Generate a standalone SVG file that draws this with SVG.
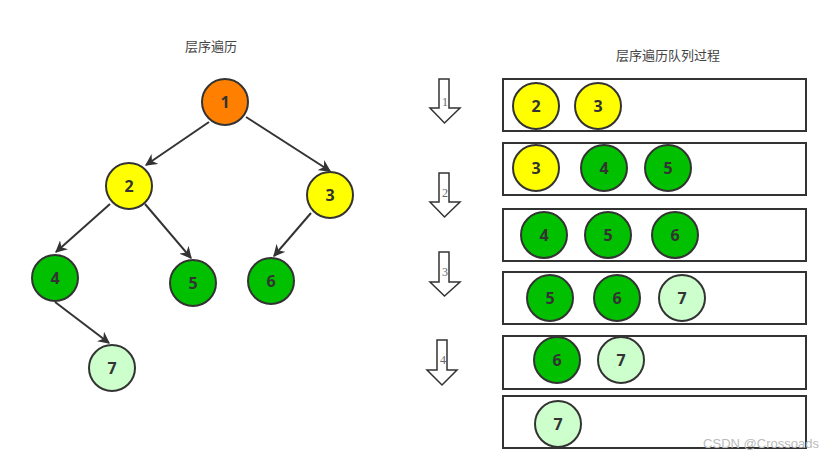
<svg xmlns="http://www.w3.org/2000/svg" width="840" height="459" viewBox="0 0 840 459">
<defs>
<marker id="ah" viewBox="0 0 10 10" refX="9" refY="5" markerWidth="6" markerHeight="6" orient="auto" markerUnits="strokeWidth">
<path d="M0,0 L10,5 L0,10 L3,5 z" fill="#333"/>
</marker>
</defs>
<style>
.n{stroke:#333;stroke-width:2}
.o{fill:#ff8000}
.y{fill:#ffff00}
.g{fill:#00c000}
.l{fill:#ccffcc}
.t{font-family:"Open Sans","Liberation Sans",sans-serif;font-weight:bold;font-size:16px;fill:#333;text-anchor:middle;dominant-baseline:central}
.e{stroke:#333;stroke-width:2;fill:none;marker-end:url(#ah)}
.q{fill:#fff;stroke:#333;stroke-width:2}
.ar{fill:#fff;stroke:#333;stroke-width:1.5}
.al{font-family:"Liberation Serif",serif;font-size:12px;fill:#666;text-anchor:middle}
.ti{font-family:"Noto Sans CJK SC",sans-serif;font-size:13px;fill:#444;text-anchor:middle}
</style>
<rect width="840" height="459" fill="#fff"/>
<text class="ti" x="211" y="51">层序遍历</text>
<text class="ti" x="668" y="60">层序遍历队列过程</text>
<g id="edges">
<line class="e" x1="209" y1="122" x2="146" y2="165"/>
<line class="e" x1="246" y1="117" x2="330" y2="171"/>
<line class="e" x1="110" y1="204" x2="56" y2="252"/>
<line class="e" x1="145" y1="204" x2="191" y2="258"/>
<line class="e" x1="311" y1="213" x2="274" y2="256"/>
<line class="e" x1="55" y1="302" x2="109" y2="343"/>
</g>
<g id="n1"><circle class="n o" cx="225" cy="102" r="23"/><text class="t" x="225" y="102">1</text></g>
<g id="n2"><circle class="n y" cx="129" cy="186" r="23"/><text class="t" x="129" y="186">2</text></g>
<g id="n3"><circle class="n y" cx="330" cy="195" r="23"/><text class="t" x="330" y="195">3</text></g>
<g id="n4"><circle class="n g" cx="55" cy="278" r="23"/><text class="t" x="55" y="278">4</text></g>
<g id="n5"><circle class="n g" cx="193" cy="283" r="23"/><text class="t" x="193" y="283">5</text></g>
<g id="n6"><circle class="n g" cx="271" cy="281" r="23"/><text class="t" x="271" y="281">6</text></g>
<g id="n7"><circle class="n l" cx="112" cy="368" r="23"/><text class="t" x="112" y="368">7</text></g>

<g id="arrows">
<path class="ar" d="M439,79 H449 V108 H460 L444.5,123 L430,108 H439 Z"/>
<text class="al" x="445" y="106">1</text>
<path class="ar" d="M439,173 H449 V202 H460 L444.5,217 L430,202 H439 Z"/>
<text class="al" x="445" y="197">2</text>
<path class="ar" d="M439,252 H449 V282 H460 L444.5,296 L430,282 H439 Z"/>
<text class="al" x="445" y="276">3</text>
<path class="ar" d="M437,340 H447 V370 H457 L442,385 L427,370 H437 Z"/>
<text class="al" x="443" y="364">4</text>
</g>

<g id="q1">
<rect class="q" x="503" y="79" width="303" height="52"/>
<circle class="n y" cx="536" cy="106" r="23"/><text class="t" x="536" y="106">2</text>
<circle class="n y" cx="598" cy="106" r="23"/><text class="t" x="598" y="106">3</text>
</g>
<g id="q2">
<rect class="q" x="503" y="143" width="303" height="52"/>
<circle class="n y" cx="536" cy="168" r="23"/><text class="t" x="536" y="168">3</text>
<circle class="n g" cx="604" cy="168" r="23"/><text class="t" x="604" y="168">4</text>
<circle class="n g" cx="668" cy="168" r="23"/><text class="t" x="668" y="168">5</text>
</g>
<g id="q3">
<rect class="q" x="503" y="209" width="303" height="52"/>
<circle class="n g" cx="544" cy="235" r="23"/><text class="t" x="544" y="235">4</text>
<circle class="n g" cx="608" cy="235" r="23"/><text class="t" x="608" y="235">5</text>
<circle class="n g" cx="675" cy="235" r="23"/><text class="t" x="675" y="235">6</text>
</g>
<g id="q4">
<rect class="q" x="503" y="272" width="303" height="52"/>
<circle class="n g" cx="550" cy="298" r="23"/><text class="t" x="550" y="298">5</text>
<circle class="n g" cx="617" cy="298" r="23"/><text class="t" x="617" y="298">6</text>
<circle class="n l" cx="682" cy="298" r="23"/><text class="t" x="682" y="298">7</text>
</g>
<g id="q5">
<rect class="q" x="503" y="336" width="303" height="53"/>
<circle class="n g" cx="557" cy="360" r="23"/><text class="t" x="557" y="360">6</text>
<circle class="n l" cx="621" cy="360" r="23"/><text class="t" x="621" y="360">7</text>
</g>
<g id="q6">
<rect class="q" x="503" y="396" width="303" height="52"/>
<circle class="n l" cx="558" cy="424" r="23"/><text class="t" x="558" y="424">7</text>
</g>
<text x="761" y="448" font-family="Liberation Sans,sans-serif" font-size="13" fill="#bbb" text-anchor="middle">CSDN @Crossoads</text>
</svg>
